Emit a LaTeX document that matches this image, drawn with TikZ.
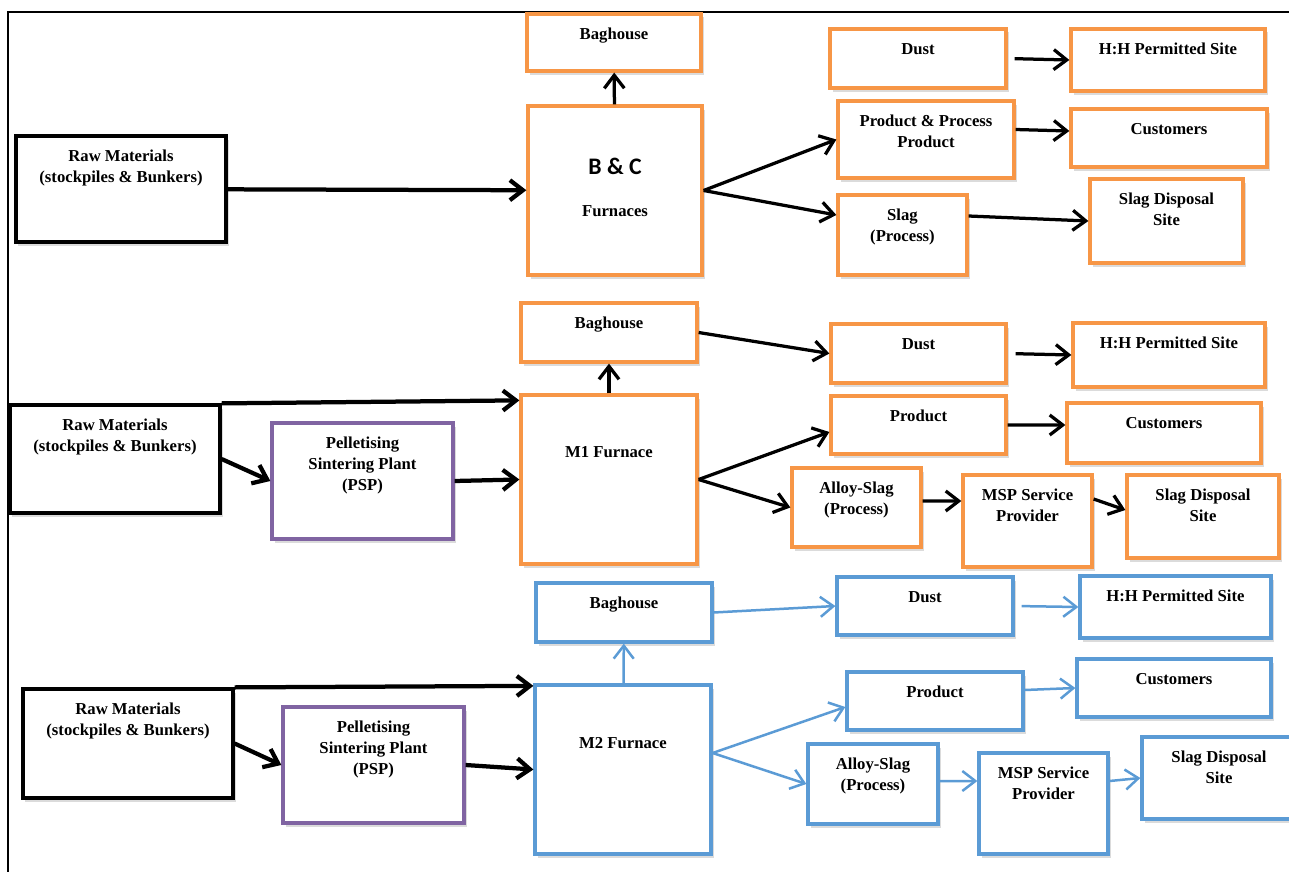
\documentclass[tikz,border=0pt]{standalone}
\usepackage{fontspec}
\setmainfont{Liberation Serif}
\newfontfamily\calfont{Carlito}
\usepackage{tikz}
\usetikzlibrary{arrows.meta}
\usetikzlibrary{fit}
\usetikzlibrary{shadows}
\definecolor{boxorange}{RGB}{247,150,70}
\definecolor{boxblue}{RGB}{91,155,213}
\definecolor{boxpurple}{RGB}{128,100,162}
\tikzset{
  unit/.style={draw, fill=white, inner sep=0pt, line width=0.065cm,
    drop shadow={shadow xshift=0.05cm, shadow yshift=-0.07cm, fill=black!40, opacity=0.35}},
  blackunit/.style={unit, draw=black},
  orangeunit/.style={unit, draw=boxorange},
  blueunit/.style={unit, draw=boxblue},
  purpleunit/.style={unit, draw=boxpurple},
  boxtext/.style={anchor=north, inner sep=0pt, align=center, font=\bfseries\fontsize{9.5}{12}\selectfont},
  flow/.style={line width=0.065cm, -{Straight Barb[length=0.26cm,width=0.4cm]}},
  heavyflow/.style={flow, line width=0.085cm},
  blueflow/.style={flow, draw=boxblue, line width=0.05cm}
}
\newcommand{\unitbox}[8]{ \node[#6, fit={(#2,#3) (#4,#5)}] (#1) {}; \node[boxtext] (#1t) at ([yshift=#7]#1.north) {#8};}

\begin{document}
\begin{tikzpicture}[x=0.02cm, y=-0.02cm]
        \useasboundingbox (0,0) rectangle (1289,872);
        \draw[line width=0.045cm] (8,880) -- (8,12) -- (1295,12);

        \unitbox{raw1}{16}{136}{226}{242}{blackunit}{-0.31cm}{Raw Materials\\(stockpiles \& Bunkers)}
        \unitbox{bag1}{527}{14}{701}{71}{orangeunit}{-0.31cm}{Baghouse}
        \unitbox{furn1}{528}{106}{702}{275}{orangeunit}{-1.07cm}{{\calfont\fontsize{13.5}{15}\selectfont B \& C}\\[12pt]Furnaces}
        \unitbox{dust1}{830}{29}{1006}{88}{orangeunit}{-0.32cm}{Dust}
        \unitbox{hh1}{1071}{29}{1265}{91}{orangeunit}{-0.31cm}{H:H Permitted Site}
        \unitbox{prod1}{838}{101}{1014}{178}{orangeunit}{-0.31cm}{Product \& Process\\Product}
        \unitbox{cust1}{1071}{109}{1267}{167}{orangeunit}{-0.31cm}{Customers}
        \unitbox{slag1}{838}{195}{967}{275}{orangeunit}{-0.31cm}{Slag\\(Process)}
        \unitbox{disp1}{1090}{179}{1243}{263}{orangeunit}{-0.31cm}{Slag Disposal\\Site}

        \draw[heavyflow] (raw1) -- (furn1);
        \draw[flow] (furn1) -- (bag1);
        \draw[flow] (furn1.east) -- (prod1.west);
        \draw[flow] (furn1.east) -- ([yshift=0.4cm]slag1.west);
        \draw[flow, shorten <=0.14cm] (dust1.east) -- (hh1.west);
        \draw[flow] ([yshift=0.2cm]prod1.east) -- ([yshift=0.14cm]cust1.west);
        \draw[flow] ([yshift=0.38cm]slag1.east) -- (disp1.west);

        \unitbox{raw2}{10}{405}{220}{513}{blackunit}{-0.31cm}{Raw Materials\\(stockpiles \& Bunkers)}
        \unitbox{psp2}{272}{423}{453}{539}{purpleunit}{-0.31cm}{Pelletising\\Sintering Plant\\(PSP)}
        \unitbox{bag2}{521}{303}{697}{362}{orangeunit}{-0.31cm}{Baghouse}
        \unitbox{furn2}{521}{395}{697}{564}{orangeunit}{-1.05cm}{M1 Furnace}
        \unitbox{dust2}{831}{324}{1006}{383}{orangeunit}{-0.31cm}{Dust}
        \unitbox{hh2}{1073}{323}{1265}{387}{orangeunit}{-0.31cm}{H:H Permitted Site}
        \unitbox{prod2}{831}{396}{1006}{454}{orangeunit}{-0.31cm}{Product}
        \unitbox{cust2}{1067}{403}{1261}{463}{orangeunit}{-0.31cm}{Customers}
        \unitbox{alloy2}{792}{468}{921}{547}{orangeunit}{-0.31cm}{Alloy-Slag\\(Process)}
        \unitbox{msp2}{963}{475}{1092}{567}{orangeunit}{-0.31cm}{MSP Service\\Provider}
        \unitbox{disp2}{1127}{475}{1279}{558}{orangeunit}{-0.31cm}{Slag Disposal\\Site}

        \draw[heavyflow] (raw2.north east) -- ([yshift=-0.14cm]furn2.north west);
        \draw[heavyflow] (raw2.east) -- (psp2.west);
        \draw[heavyflow] (psp2.east) -- (furn2.west);
        \draw[flow] (furn2) -- (bag2);
        \draw[flow] (bag2.east) -- (dust2.west);
        \draw[flow, shorten <=0.16cm] (dust2.east) -- (hh2.west);
        \draw[flow] (furn2.east) -- ([yshift=-0.14cm]prod2.west);
        \draw[flow] (furn2.east) -- (alloy2.west);
        \draw[flow] (prod2.east) -- ([yshift=0.16cm]cust2.west);
        \draw[flow] ([yshift=0.13cm]alloy2.east) -- ([yshift=0.4cm]msp2.west);
        \draw[flow] ([yshift=0.44cm]msp2.east) -- ([yshift=0.13cm]disp2.west);

        \unitbox{raw3}{23}{689}{233}{798}{blackunit}{-0.31cm}{Raw Materials\\(stockpiles \& Bunkers)}
        \unitbox{psp3}{283}{707}{464}{823}{purpleunit}{-0.31cm}{Pelletising\\Sintering Plant\\(PSP)}
        \unitbox{bag3}{536}{583}{712}{642}{blueunit}{-0.31cm}{Baghouse}
        \unitbox{furn3}{535}{685}{711}{854}{blueunit}{-1.07cm}{M2 Furnace}
        \unitbox{dust3}{837}{577}{1013}{635}{blueunit}{-0.31cm}{Dust}
        \unitbox{hh3}{1080}{576}{1271}{638}{blueunit}{-0.31cm}{H:H Permitted Site}
        \unitbox{prod3}{847}{672}{1023}{730}{blueunit}{-0.31cm}{Product}
        \unitbox{cust3}{1077}{659}{1271}{717}{blueunit}{-0.31cm}{Customers}
        \unitbox{alloy3}{808}{744}{938}{824}{blueunit}{-0.31cm}{Alloy-Slag\\(Process)}
        \unitbox{msp3}{979}{753}{1108}{854}{blueunit}{-0.31cm}{MSP Service\\Provider}
        \unitbox{disp3}{1142}{737}{1296}{819}{blueunit}{-0.31cm}{Slag Disposal\\Site}

        \draw[heavyflow] (raw3.north east) -- ([yshift=-0.05cm]furn3.north west);
        \draw[heavyflow] (raw3.east) -- (psp3.west);
        \draw[heavyflow] (psp3.east) -- (furn3.west);
        \draw[blueflow] (furn3) -- (bag3);
        \draw[blueflow] (bag3.east) -- (dust3.west);
        \draw[blueflow, shorten <=0.14cm] (dust3.east) -- (hh3.west);
        \draw[blueflow] ([yshift=0.33cm]furn3.east) -- ([yshift=-0.12cm]prod3.west);
        \draw[blueflow] ([yshift=0.33cm]furn3.east) -- (alloy3.west);
        \draw[blueflow] ([yshift=0.22cm]prod3.east) -- (cust3.west);
        \draw[blueflow] ([yshift=0.06cm]alloy3.east) -- ([yshift=0.45cm]msp3.west);
        \draw[blueflow] ([yshift=0.45cm]msp3.east) -- (disp3.west);
    \end{tikzpicture}
\end{document}
